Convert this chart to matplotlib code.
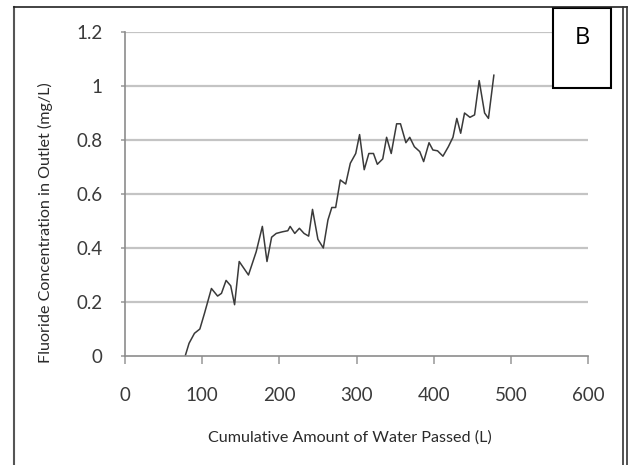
import numpy as np
import matplotlib
matplotlib.use('Agg')
import matplotlib.pyplot as plt
from matplotlib.lines import Line2D
from matplotlib.patches import Rectangle

water = [78, 83, 90, 97, 103, 112, 120, 125, 131, 137, 142, 148, 160, 170, 178,
         184, 190, 196, 204, 211, 214, 220, 226, 232, 238, 243, 250, 257, 263,
         268, 273, 279, 286, 292, 299, 304, 310, 316, 322, 327, 334, 339, 345,
         352, 357, 364, 369, 375, 382, 387, 394, 399, 405, 412, 419, 425, 430,
         435, 440, 447, 453, 459, 466, 471, 478]
fluoride = [0.0, 0.047, 0.084, 0.10, 0.158, 0.25, 0.222, 0.232, 0.28, 0.26, 0.19,
            0.35, 0.30, 0.386, 0.48, 0.35, 0.44, 0.454, 0.46, 0.464, 0.48, 0.454,
            0.473, 0.454, 0.444, 0.543, 0.432, 0.40, 0.504, 0.55, 0.55, 0.652,
            0.637, 0.714, 0.75, 0.82, 0.69, 0.75, 0.75, 0.71, 0.73, 0.81, 0.75,
            0.86, 0.86, 0.79, 0.81, 0.775, 0.757, 0.72, 0.79, 0.763, 0.76, 0.74,
            0.775, 0.81, 0.88, 0.825, 0.90, 0.884, 0.893, 1.02, 0.90, 0.88, 1.04]
xticks = [0, 100, 200, 300, 400, 500, 600]
yticks = [0, 0.2, 0.4, 0.6, 0.8, 1.0, 1.2]
ylabels = ['0', '0.2', '0.4', '0.6', '0.8', '1', '1.2']

plt.rcParams['font.family'] = ['Lato', 'DejaVu Sans']

W, H = 629, 465
fig = plt.figure(figsize=(W / 100, H / 100), dpi=100)
ax = fig.add_axes([125 / W, 1 - 356 / H, 463 / W, 324 / H])

ax.plot(water, fluoride, color='#3a3a3a', lw=1.1)
ax.set_xlim(0, 600)
ax.set_ylim(0, 1.2)
ax.set_xticks(xticks)
ax.set_yticks(yticks)
ax.set_yticklabels(ylabels)
for y in yticks[1:]:
    ax.axhline(y, color='#c4c4c4', lw=1.6, zorder=0)

for s in ['top', 'right']:
    ax.spines[s].set_visible(False)
for s in ['left', 'bottom']:
    ax.spines[s].set_color('#8c8c8c')
    ax.spines[s].set_linewidth(1.2)
ax.tick_params(axis='x', direction='out', length=6, width=1.2, color='#a0a0a0',
               labelsize=13.5, labelcolor='#3a3a3a', pad=16)
ax.tick_params(axis='y', direction='out', length=3, width=1.2, color='#a0a0a0',
               labelsize=13.5, labelcolor='#3a3a3a', pad=13)

fig.text(350 / W, 1 - 438 / H, 'Cumulative Amount of Water Passed (L)',
         ha='center', va='center', fontsize=11.6, color='#2a2a2a')
fig.text(45 / W, 1 - 223 / H, 'Fluoride Concentration in Outlet (mg/L)',
         ha='center', va='center', rotation=90, fontsize=11.6, color='#2a2a2a')

# page borders
fig.add_artist(Line2D([13.5 / W, 13.5 / W], [0, 1 - 7.5 / H], color='#555555', lw=1.5))
fig.add_artist(Line2D([13.5 / W, 626.5 / W], [1 - 7.5 / H, 1 - 7.5 / H], color='#222222', lw=1.2))
fig.add_artist(Line2D([622.5 / W, 622.5 / W], [0, 1 - 7.5 / H], color='#333333', lw=1.2))
fig.add_artist(Line2D([626.5 / W, 626.5 / W], [0, 1 - 7.5 / H], color='#333333', lw=1.2))

fig.add_artist(Rectangle((553 / W, 1 - 88 / H), 58 / W, 80 / H, fill=True,
                         facecolor='white', edgecolor='black', lw=1.5,
                         transform=fig.transFigure))
fig.text(582 / W, 1 - 38 / H, 'B', ha='center', va='center', fontsize=17,
         color='black', family=['Open Sans', 'DejaVu Sans'])

fig.savefig('out.png', dpi=100)
